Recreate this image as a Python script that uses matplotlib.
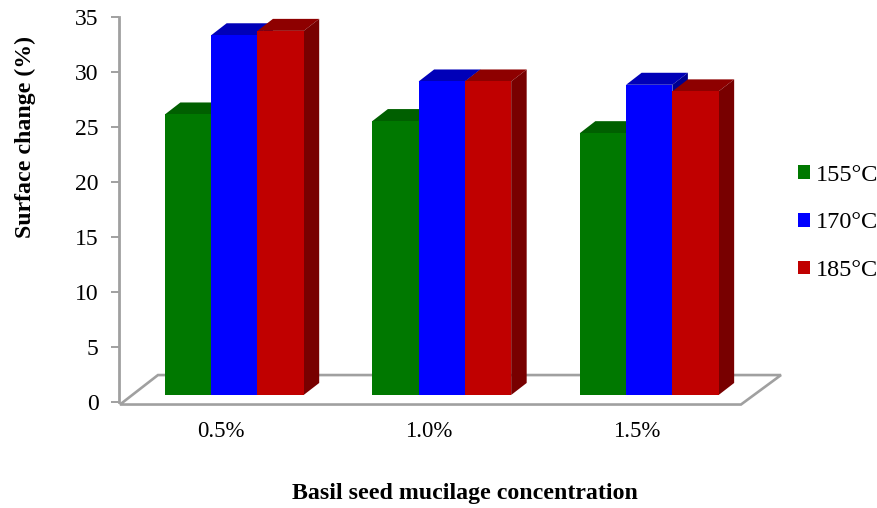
import matplotlib
matplotlib.use('Agg')
import matplotlib.pyplot as plt
from matplotlib.patches import Polygon
from matplotlib.transforms import ScaledTranslation

plt.rcParams['font.family'] = ['Liberation Serif', 'DejaVu Serif']

concentrations = ['0.5%', '1.0%', '1.5%']
temps = ['155°C', '170°C', '185°C']
values_155 = [25.5, 24.9, 23.8]
values_170 = [32.7, 28.5, 28.2]
values_185 = [33.1, 28.5, 27.6]
y_ticks = [0, 5, 10, 15, 20, 25, 30, 35]

front_colors = ['#007800', '#0000ff', '#c00000']
top_colors = ['#005f00', '#0000b8', '#8e0000']
side_colors = ['#004f00', '#000090', '#780000']
GREY = '#a0a0a0'

W, H = 877, 508
fig = plt.figure(figsize=(W / 100, H / 100), dpi=100)
ax = fig.add_axes([119 / W, 1 - 402 / H, (781 - 119) / W, (402 - 17) / H])

# x is in category units, one category is 207.5 px wide
ax.set_xlim(-0.5557, 2.635)
ax.set_ylim(0, 35)

bar_w = 0.223
base = 0.64   # bars stand a little above the zero line, on the floor
dx, dy = 0.0747, 1.09

# floor
floor = Polygon([(-0.551, -0.23), (-0.368, 2.45), (2.635, 2.45), (2.442, -0.23)],
                closed=True, facecolor='white', edgecolor=GREY, linewidth=1.9,
                clip_on=False, zorder=1)
ax.add_patch(floor)

handles = []
series = [values_155, values_170, values_185]
z = 2
for i, vals in enumerate(series):
    xs = [c + (i - 1) * bar_w for c in range(len(vals))]
    bars = ax.bar(xs, vals, width=bar_w, bottom=base, color=front_colors[i],
                  label=temps[i], zorder=z + 2, linewidth=0)
    handles.append(bars)
    for x, v in zip(xs, vals):
        l, r = x - bar_w / 2, x + bar_w / 2
        t = base + v
        ax.add_patch(Polygon([(l, t), (l + dx, t + dy), (r + dx, t + dy), (r, t)],
                             facecolor=top_colors[i], linewidth=0, zorder=z))
        ax.add_patch(Polygon([(r, base), (r + dx, base + dy), (r + dx, t + dy), (r, t)],
                             facecolor=side_colors[i], linewidth=0, zorder=z + 1))
    z += 3

for s in ['top', 'right', 'bottom']:
    ax.spines[s].set_visible(False)
ax.spines['left'].set_color(GREY)
ax.spines['left'].set_linewidth(2)

ax.set_yticks(y_ticks)
ax.set_xticks(range(len(concentrations)))
ax.set_xticklabels(concentrations)
ax.tick_params(axis='y', length=5.8, width=1.4, color=GREY, labelsize=17, pad=9)
ax.tick_params(axis='x', length=0, labelsize=16.5, pad=14)
# category labels sit left of the bar groups in the original
shift = ScaledTranslation(-13 / 100, 0, fig.dpi_scale_trans)
for lab in ax.get_xticklabels():
    lab.set_transform(lab.get_transform() + shift)

fig.text(465 / W, 1 - 493 / H, 'Basil seed mucilage concentration', fontsize=17.2,
         fontweight='bold', ha='center', va='center')
fig.text(25 / W, 1 - 137 / H, 'Surface change (%)', fontsize=17.2, fontweight='bold',
         rotation=90, ha='center', va='center')

ax.legend(handles=handles, loc='center left', bbox_to_anchor=(798 / W, 1 - 223 / H),
          bbox_transform=fig.transFigure, frameon=False, fontsize=17.5, labelspacing=1.1,
          handlelength=0.49, handleheight=0.49, handletextpad=0.25, borderpad=0, borderaxespad=0)

fig.savefig('out.png', dpi=100)
